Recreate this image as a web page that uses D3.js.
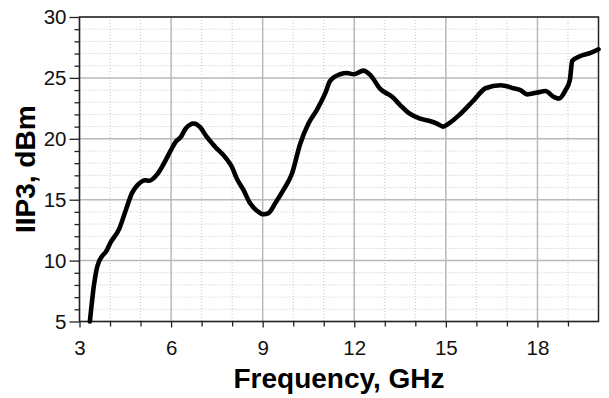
<!DOCTYPE html>
<html>
<head>
<meta charset="utf-8">
<script src="https://cdn.jsdelivr.net/npm/d3@7"></script>
<style>
  body { margin: 0; background: #fff; }
  svg { display: block; }
  text { font-family: "Liberation Sans", Arial, sans-serif; }
</style>
</head>
<body>
<svg id="chart" width="609" height="398"></svg>
<script>
// Data
const frequency = [3.34, 3.48, 3.58, 3.75, 3.86, 4.02, 4.30, 4.51, 4.73, 4.90, 5.17, 5.28, 5.55, 5.77, 5.99, 6.15, 6.32, 6.48, 6.75, 6.95, 7.17, 7.44, 7.77, 7.99, 8.15, 8.37, 8.59, 8.81, 9.03, 9.19, 9.41, 9.68, 9.96, 10.23, 10.50, 10.78, 11.05, 11.21, 11.54, 11.76, 11.98, 12.30, 12.52, 12.85, 13.24, 13.51, 13.79, 14.16, 14.55, 14.71, 14.91, 15.09, 15.48, 15.91, 16.30, 16.79, 17.22, 17.44, 17.66, 17.99, 18.26, 18.53, 18.70, 18.92, 19.06, 19.14, 19.41, 19.74, 20.0];
const iip3 = [5.0, 8.1, 9.5, 10.4, 10.7, 11.5, 12.6, 14.1, 15.6, 16.2, 16.6, 16.55, 17.1, 18.0, 19.05, 19.75, 20.15, 20.85, 21.25, 20.95, 20.15, 19.35, 18.5, 17.7, 16.75, 15.8, 14.7, 14.1, 13.8, 13.9, 14.7, 15.8, 17.15, 19.6, 21.25, 22.4, 23.75, 24.75, 25.3, 25.4, 25.3, 25.6, 25.25, 24.1, 23.45, 22.75, 22.1, 21.65, 21.4, 21.25, 21.0, 21.25, 22.05, 23.15, 24.15, 24.4, 24.15, 24.0, 23.65, 23.8, 23.92, 23.45, 23.3, 24.0, 24.8, 26.4, 26.8, 27.05, 27.35];
const xMajorTicks = [3, 6, 9, 12, 15, 18];
const xMinorTicks = [4, 5, 7, 8, 10, 11, 13, 14, 16, 17, 19];
const yMajorTicks = [5, 10, 15, 20, 25, 30];
const yMinorTicks = [6, 7, 8, 9, 11, 12, 13, 14, 16, 17, 18, 19, 21, 22, 23, 24, 26, 27, 28, 29];
const xLabel = "Frequency, GHz";
const yLabel = "IIP3, dBm";

const svg = d3.select("#chart");
const L = 79.5, R = 598.5, T = 17, B = 321.5;
const x = d3.scaleLinear().domain([3, 20]).range([L, R]);
const y = d3.scaleLinear().domain([5, 30]).range([B, T]);

// minor grid (dotted)
const g = svg.append("g");
g.selectAll(".mx").data(xMinorTicks).join("line")
  .attr("x1", d => x(d)).attr("x2", d => x(d)).attr("y1", T).attr("y2", B)
  .attr("stroke", "#c4c4c4").attr("stroke-width", 1).attr("stroke-dasharray", "1,2");
g.selectAll(".my").data(yMinorTicks).join("line")
  .attr("x1", L).attr("x2", R).attr("y1", d => y(d)).attr("y2", d => y(d))
  .attr("stroke", "#c4c4c4").attr("stroke-width", 1).attr("stroke-dasharray", "1,2");
// major grid
g.selectAll(".Mx").data(xMajorTicks).join("line")
  .attr("x1", d => x(d)).attr("x2", d => x(d)).attr("y1", T).attr("y2", B)
  .attr("stroke", "#b8b8b8").attr("stroke-width", 1.5);
g.selectAll(".My").data(yMajorTicks).join("line")
  .attr("x1", L).attr("x2", R).attr("y1", d => y(d)).attr("y2", d => y(d))
  .attr("stroke", "#b8b8b8").attr("stroke-width", 1.5);

// axes using d3 axis generators
const xAxis = svg.append("g").attr("transform", `translate(0,${B})`)
  .call(d3.axisBottom(x).tickValues(xMajorTicks).tickSize(6).tickPadding(13).tickFormat(d3.format("d")));
const xAxisMinor = svg.append("g").attr("transform", `translate(0,${B})`)
  .call(d3.axisBottom(x).tickValues(xMinorTicks).tickSize(5).tickFormat(""));
const yAxis = svg.append("g").attr("transform", `translate(${L},0)`)
  .call(d3.axisLeft(y).tickValues(yMajorTicks).tickSize(10).tickPadding(3).tickFormat(d3.format("d")));
const yAxisMinor = svg.append("g").attr("transform", `translate(${L},0)`)
  .call(d3.axisLeft(y).tickValues(yMinorTicks).tickSize(5).tickFormat(""));

[xAxis, xAxisMinor, yAxis, yAxisMinor].forEach(a => {
  a.select(".domain").remove();
  a.selectAll(".tick line").attr("stroke", "#222").attr("stroke-width", 1.3);
  a.selectAll(".tick text").attr("font-size", 20.5).attr("fill", "#111")
    .style("font-family", "'Liberation Sans', Arial, sans-serif");
});

// frame
svg.append("rect").attr("x", L).attr("y", T).attr("width", R - L).attr("height", B - T)
  .attr("fill", "none").attr("stroke", "#222").attr("stroke-width", 1.5);

// data line
const pts = frequency.map((f, i) => [f, iip3[i]]);
svg.append("path").datum(pts)
  .attr("d", d3.line().x(d => x(d[0])).y(d => y(d[1])).curve(d3.curveMonotoneX))
  .attr("fill", "none").attr("stroke", "#000").attr("stroke-width", 4.6)
  .attr("stroke-linejoin", "round").attr("stroke-linecap", "round");

// axis titles
svg.append("text").attr("x", (L + R) / 2).attr("y", 388)
  .attr("text-anchor", "middle").attr("font-size", 28).attr("font-weight", "bold")
  .attr("fill", "#000").text(xLabel);
svg.append("text").attr("transform", `translate(35,${(T + B) / 2}) rotate(-90)`)
  .attr("text-anchor", "middle").attr("font-size", 28).attr("font-weight", "bold")
  .attr("fill", "#000").text(yLabel);
</script>
</body>
</html>
